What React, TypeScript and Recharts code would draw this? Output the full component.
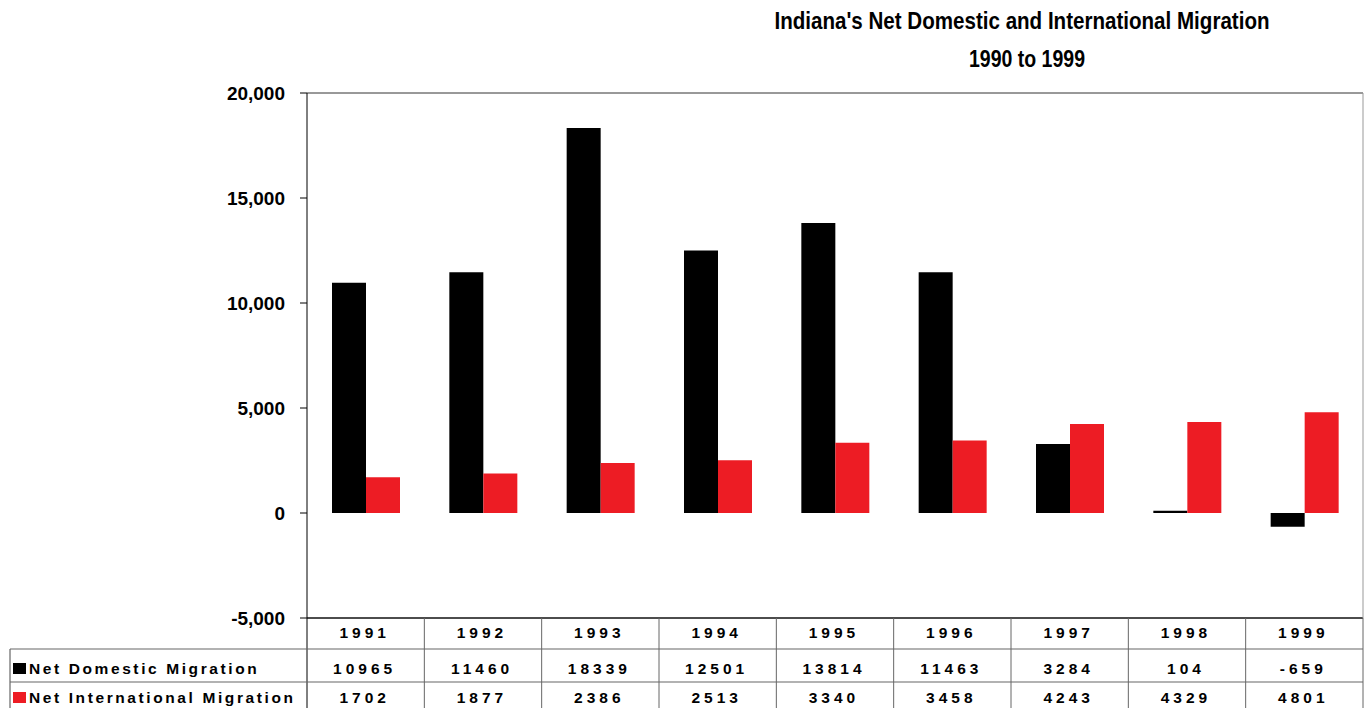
import React from "react";
import { BarChart, Bar, XAxis, YAxis, CartesianGrid } from "recharts";

const years = ["1991", "1992", "1993", "1994", "1995", "1996", "1997", "1998", "1999"];
const domestic = [10965, 11460, 18339, 12501, 13814, 11463, 3284, 104, -659];
const international = [1702, 1877, 2386, 2513, 3340, 3458, 4243, 4329, 4801];
const yTicks = [-5000, 0, 5000, 10000, 15000, 20000];
const seriesNames = ["Net Domestic Migration", "Net International Migration"];
const colors = ["#000000", "#ED1C24"];

const data = years.map((y, i) => ({ year: y, domestic: domestic[i], international: international[i] }));

const W = 1370;
const H = 708;
const M = { top: 93, right: 0, left: 0, bottom: 0 };
const Y_W = 307;
const Y_R_W = 7;
const X_H = 90;
const plotLeft = Y_W;
const plotRight = W - Y_R_W;
const plotBottom = H - X_H;
const cw = (plotRight - plotLeft) / years.length;
const font = "'Liberation Sans', Arial, sans-serif";

const fmt = (v: number) => v.toLocaleString("en-US");

const TableTick = (props: any) => {
  const { x, index, payload } = props;
  const i = index as number;
  const numStyle = { fontFamily: font, fontWeight: 700, fontSize: 15.5, letterSpacing: 4 } as const;
  const legStyle = { fontFamily: font, fontWeight: 700, fontSize: 15.5, letterSpacing: 2.6 } as const;
  const rowY = [plotBottom + 20, plotBottom + 56, plotBottom + 85];
  const lineColor = "#666";
  return (
    <g>
      <text x={x - 1} y={rowY[0]} textAnchor="middle" style={numStyle} fill="#000">{payload.value}</text>
      <text x={x - 1} y={rowY[1]} textAnchor="middle" style={numStyle} fill="#000">{domestic[i]}</text>
      <text x={x - 1} y={rowY[2]} textAnchor="middle" style={numStyle} fill="#000">{international[i]}</text>
      <line x1={x + cw / 2} x2={x + cw / 2} y1={plotBottom} y2={H} stroke={lineColor} strokeWidth={1} />
      {i === 0 && (
        <g>
          <line x1={x - cw / 2} x2={x - cw / 2} y1={plotBottom} y2={H} stroke="#000" strokeWidth={1} />
          <line x1={10} x2={plotRight} y1={plotBottom + 31} y2={plotBottom + 31} stroke={lineColor} strokeWidth={1.2} />
          <line x1={10} x2={plotRight} y1={plotBottom + 64} y2={plotBottom + 64} stroke={lineColor} strokeWidth={1.2} />
          <line x1={10} x2={10} y1={plotBottom + 31} y2={H} stroke={lineColor} strokeWidth={1.2} />
          {seriesNames.map((n, k) => (
            <g key={n}>
              <rect x={13} y={rowY[k + 1] - 11} width={13} height={11} fill={colors[k]} />
              <text x={29} y={rowY[k + 1]} style={legStyle} fill="#000">{n}</text>
            </g>
          ))}
        </g>
      )}
    </g>
  );
};

export default function App() {
  return (
    <div style={{ position: "absolute", left: 0, top: 0, width: W, height: H, background: "#fff" }}>
      <BarChart width={W} height={H} data={data} margin={M} barGap={0} barSize={34}>
        <CartesianGrid vertical={false} stroke="#333" strokeWidth={1} />
        <XAxis
          dataKey="year"
          height={X_H}
          axisLine={{ stroke: "#000" }}
          tickLine={false}
          tick={<TableTick />}
          interval={0}
        />
        <YAxis
          yAxisId="l"
          domain={[-5000, 20000]}
          ticks={yTicks}
          width={Y_W}
          tickSize={7}
          tickMargin={15}
          tickFormatter={fmt}
          axisLine={{ stroke: "#000" }}
          tickLine={{ stroke: "#000" }}
          tick={{ fontFamily: font, fontWeight: 700, fontSize: 19, fill: "#000" }}
          allowDataOverflow
        />
        <YAxis
          yAxisId="r"
          orientation="right"
          domain={[-5000, 20000]}
          ticks={yTicks}
          width={Y_R_W}
          tick={false}
          tickLine={false}
          axisLine={{ stroke: "#999" }}
        />
        <Bar yAxisId="l" dataKey="domestic" fill={colors[0]} isAnimationActive={false} />
        <Bar yAxisId="l" dataKey="international" fill={colors[1]} isAnimationActive={false} />
      </BarChart>
      <svg width={W} height={80} style={{ position: "absolute", left: 0, top: 0 }}>
        <text x={1022} y={29} textAnchor="middle" textLength={495} lengthAdjust="spacingAndGlyphs"
          style={{ fontFamily: font, fontWeight: 700, fontSize: 24 }} fill="#000">
          Indiana's Net Domestic and International Migration
        </text>
        <text x={1027} y={67} textAnchor="middle" textLength={116} lengthAdjust="spacingAndGlyphs"
          style={{ fontFamily: font, fontWeight: 700, fontSize: 24 }} fill="#000">
          1990 to 1999
        </text>
      </svg>
    </div>
  );
}
